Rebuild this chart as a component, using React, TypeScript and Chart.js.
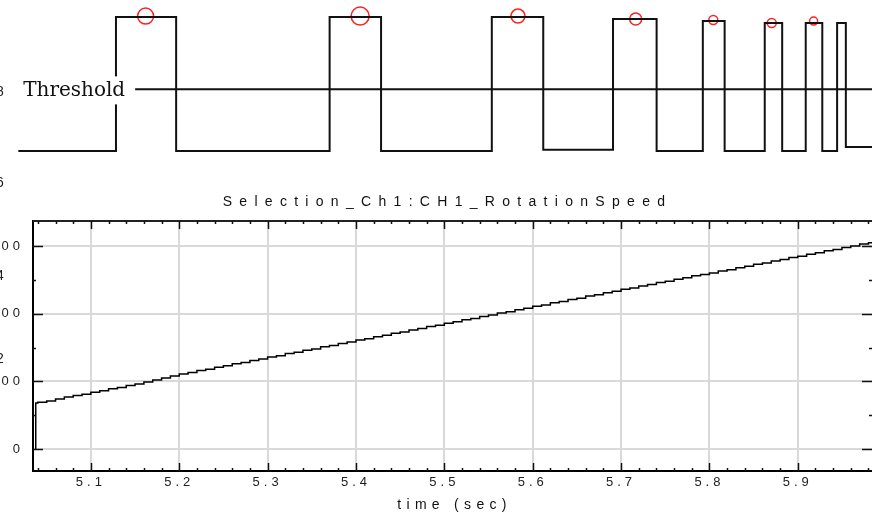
import React, { useEffect, useRef } from "react";
import { Chart, registerables } from "chart.js";

Chart.register(...registerables);

// ---------- Top panel: pulse train with threshold (arbitrary time units 0–100) ----------
const signalStart = 2.1;
const signalEnd = 100;
const pulseRise = [13.3, 37.8, 56.4, 70.3, 80.6, 87.7, 92.4, 96.0];
const pulseFall = [20.2, 43.7, 62.3, 75.3, 83.1, 89.7, 94.3, 97.0];
const pulseHigh = [1.0, 1.0, 1.0, 0.985, 0.97, 0.955, 0.955, 0.955];
const pulseLowAfter = [0, 0, 0.01, 0, 0, 0, 0, 0.03];
const thresholdStart = 15.5;
const thresholdLevel = 0.46;
const thresholdText = "Threshold";
const peakX = [16.7, 41.3, 59.4, 72.9, 81.8, 88.5, 93.3];
const peakY = [1.007, 1.007, 1.007, 0.985, 0.978, 0.955, 0.97];
const peakSize = [8, 9, 7, 6, 4.5, 4.5, 4];
const sideDigits = ["8", "6", "4", "2"];

// ---------- Bottom panel: rotation speed vs time ----------
const chartTitle = "Selection_Ch1:CH1_RotationSpeed";
const xTitle = "time (sec)";
const timeSec = [
  5.0368, 5.0376, 5.04, 5.05, 5.06, 5.07, 5.08, 5.09,
  5.1, 5.11, 5.12, 5.13, 5.14, 5.15, 5.16, 5.17, 5.18, 5.19,
  5.2, 5.21, 5.22, 5.23, 5.24, 5.25, 5.26, 5.27, 5.28, 5.29,
  5.3, 5.31, 5.32, 5.33, 5.34, 5.35, 5.36, 5.37, 5.38, 5.39,
  5.4, 5.41, 5.42, 5.43, 5.44, 5.45, 5.46, 5.47, 5.48, 5.49,
  5.5, 5.51, 5.52, 5.53, 5.54, 5.55, 5.56, 5.57, 5.58, 5.59,
  5.6, 5.61, 5.62, 5.63, 5.64, 5.65, 5.66, 5.67, 5.68, 5.69,
  5.7, 5.71, 5.72, 5.73, 5.74, 5.75, 5.76, 5.77, 5.78, 5.79,
  5.8, 5.81, 5.82, 5.83, 5.84, 5.85, 5.86, 5.87, 5.88, 5.89,
  5.9, 5.91, 5.92, 5.93, 5.94, 5.95, 5.96, 5.97, 5.98, 5.984,
];
const speed = [
  0, 0.68, 0.69, 0.71, 0.74, 0.77, 0.79, 0.81,
  0.84, 0.86, 0.89, 0.91, 0.94, 0.96, 0.99, 1.02, 1.05, 1.08,
  1.11, 1.13, 1.16, 1.18, 1.21, 1.23, 1.26, 1.28, 1.31, 1.33,
  1.36, 1.38, 1.41, 1.43, 1.46, 1.48, 1.51, 1.53, 1.56, 1.58,
  1.61, 1.63, 1.66, 1.68, 1.71, 1.73, 1.76, 1.78, 1.81, 1.83,
  1.86, 1.88, 1.91, 1.93, 1.96, 1.98, 2.01, 2.03, 2.06, 2.08,
  2.11, 2.13, 2.16, 2.18, 2.21, 2.23, 2.26, 2.28, 2.31, 2.33,
  2.36, 2.38, 2.41, 2.43, 2.46, 2.48, 2.51, 2.53, 2.56, 2.58,
  2.6, 2.63, 2.65, 2.68, 2.7, 2.73, 2.75, 2.78, 2.8, 2.83,
  2.85, 2.88, 2.9, 2.93, 2.95, 2.98, 3.0, 3.03, 3.05, 3.06,
];
const xMin = 5.0345;
const xMax = 5.984;
const xTicks = [5.1, 5.2, 5.3, 5.4, 5.5, 5.6, 5.7, 5.8, 5.9];
const xMinorStep = 0.02;
const yMin = -0.325;
const yMax = 3.37;
const yTicks = [0, 1, 2, 3];
const yTickLabels = ["0", "100", "200", "300"];
const yMinorStep = 0.5;

const SANS = "'Liberation Sans', Arial, sans-serif";

function buildPulse() {
  const pts: { x: number; y: number }[] = [{ x: signalStart, y: 0 }];
  let low = 0;
  for (let i = 0; i < pulseRise.length; i++) {
    pts.push({ x: pulseRise[i], y: low });
    pts.push({ x: pulseRise[i], y: pulseHigh[i] });
    pts.push({ x: pulseFall[i], y: pulseHigh[i] });
    low = pulseLowAfter[i];
    pts.push({ x: pulseFall[i], y: low });
  }
  pts.push({ x: signalEnd, y: low });
  return pts;
}

export default function App() {
  const topRef = useRef<HTMLCanvasElement | null>(null);
  const botRef = useRef<HTMLCanvasElement | null>(null);

  useEffect(() => {
    const labelPlugin = {
      id: "thresholdLabel",
      afterDatasetsDraw(chart: any) {
        const ctx = chart.ctx;
        const xs = chart.scales.x;
        const ys = chart.scales.y;
        const xr = xs.getPixelForValue(thresholdStart) - 10;
        const yc = ys.getPixelForValue(thresholdLevel);
        ctx.save();
        ctx.font = "20px 'DejaVu Serif', serif";
        const w = ctx.measureText(thresholdText).width;
        ctx.fillStyle = "#fff";
        ctx.fillRect(xr - w - 6, yc - 13, w + 13, 28);
        ctx.fillStyle = "#111";
        ctx.textAlign = "right";
        ctx.textBaseline = "middle";
        ctx.fillText(thresholdText, xr, yc + 1);
        ctx.restore();
      },
    };

    const top = new Chart(topRef.current as HTMLCanvasElement, {
      type: "line",
      data: {
        datasets: [
          {
            data: buildPulse(),
            borderColor: "#111",
            borderWidth: 2,
            pointRadius: 0,
            tension: 0,
          },
          {
            data: [
              { x: thresholdStart, y: thresholdLevel },
              { x: signalEnd, y: thresholdLevel },
            ],
            borderColor: "#111",
            borderWidth: 2,
            pointRadius: 0,
          },
          {
            data: peakX.map((x, i) => ({ x, y: peakY[i] })),
            showLine: false,
            pointRadius: peakSize,
            pointBorderColor: "#ff2020",
            pointBackgroundColor: "rgba(0,0,0,0)",
            pointBorderWidth: 1.5,
          },
        ],
      },
      options: {
        animation: false,
        responsive: false,
        layout: { padding: 0, autoPadding: false },
        plugins: { legend: { display: false }, tooltip: { enabled: false } },
        scales: {
          x: { type: "linear", min: 0, max: 100, display: false },
          y: { min: -0.291, max: 1.127, display: false },
        },
      } as any,
      plugins: [labelPlugin],
    });

    const framePlugin = {
      id: "frame",
      beforeDraw(chart: any) {
        (chart.ctx as any).letterSpacing = "4px";
      },
      afterDraw(chart: any) {
        const ctx = chart.ctx;
        const a = chart.chartArea;
        const xs = chart.scales.x;
        const ys = chart.scales.y;
        ctx.save();
        ctx.strokeStyle = "#222";
        ctx.lineWidth = 2;
        ctx.beginPath();
        ctx.moveTo(a.left, a.top);
        ctx.lineTo(a.right, a.top);
        ctx.stroke();
        ctx.lineWidth = 1.5;
        ctx.strokeStyle = "#111";
        ctx.beginPath();
        for (let v = Math.ceil(xMin / xMinorStep) * xMinorStep; v <= xMax; v += xMinorStep) {
          const major = xTicks.some((t) => Math.abs(t - v) < 1e-6);
          const len = major ? 8 : 3;
          const px = Math.round(xs.getPixelForValue(v)) + 0.5;
          ctx.moveTo(px, a.bottom);
          ctx.lineTo(px, a.bottom - len);
          ctx.moveTo(px, a.top);
          ctx.lineTo(px, a.top + len);
        }
        for (let v = Math.ceil(yMin / yMinorStep) * yMinorStep; v <= yMax; v += yMinorStep) {
          const major = yTicks.some((t) => Math.abs(t - v) < 1e-6);
          const len = major ? 10 : 3;
          const py = Math.round(ys.getPixelForValue(v)) + 0.5;
          ctx.moveTo(a.left, py);
          ctx.lineTo(a.left + len, py);
          ctx.moveTo(a.right, py);
          ctx.lineTo(a.right - len, py);
        }
        ctx.stroke();
        ctx.fillStyle = "#111";
        ctx.textAlign = "center";
        ctx.textBaseline = "middle";
        ctx.font = "14px " + SANS;
        (ctx as any).letterSpacing = "7.3px";
        ctx.fillText(chartTitle, (a.left + a.right) / 2 - 5, 12);
        ctx.font = "14px " + SANS;
        (ctx as any).letterSpacing = "5.3px";
        ctx.fillText(xTitle, (a.left + a.right) / 2 + 2, chart.height - 12);
        ctx.restore();
        (ctx as any).letterSpacing = "0px";
      },
    };

    const bot = new Chart(botRef.current as HTMLCanvasElement, {
      type: "line",
      data: {
        datasets: [
          {
            data: timeSec.map((t, i) => ({ x: t, y: speed[i] })),
            borderColor: "#000",
            borderWidth: 1.5,
            pointRadius: 0,
            stepped: "before",
          },
        ],
      },
      options: {
        animation: false,
        responsive: false,
        layout: { padding: { top: 31, left: 0, right: 0, bottom: 0 }, autoPadding: false },
        plugins: { legend: { display: false }, title: { display: false }, tooltip: { enabled: false } },
        scales: {
          x: {
            type: "linear",
            min: xMin,
            max: xMax,
            afterBuildTicks: (s: any) => {
              s.ticks = xTicks.map((v) => ({ value: v }));
            },
            afterFit: (s: any) => {
              s.height = 46;
            },
            grid: { color: "#d9d9d9", lineWidth: 2, drawTicks: false },
            border: { display: true, color: "#000", width: 2 },
            ticks: {
              padding: 4,
              color: "#222",
              font: { family: SANS, size: 13 },
              maxRotation: 0,
              autoSkip: false,
              callback: (v: any) => Number(v).toFixed(1),
            },
          },
          y: {
            min: yMin,
            max: yMax,
            afterBuildTicks: (s: any) => {
              s.ticks = yTicks.map((v) => ({ value: v }));
            },
            afterFit: (s: any) => {
              s.width = 33;
            },
            grid: { color: "#d9d9d9", lineWidth: 2, drawTicks: false },
            border: { display: true, color: "#000", width: 2 },
            ticks: {
              padding: 9,
              color: "#222",
              font: { family: SANS, size: 13 },
              autoSkip: false,
              callback: (v: any) => {
                const i = yTicks.indexOf(Number(v));
                return i >= 0 ? yTickLabels[i] : "";
              },
            },
          },
        },
      } as any,
      plugins: [framePlugin],
    });

    return () => {
      top.destroy();
      bot.destroy();
    };
  }, []);

  const digitTops = [82, 173, 266, 349];

  return (
    <div
      style={{
        position: "absolute",
        left: 0,
        top: 0,
        width: 872,
        height: 517,
        overflow: "hidden",
        background: "#fff",
      }}
    >
      <canvas ref={topRef} width={872} height={190} style={{ position: "absolute", left: 0, top: 0 }} />
      <canvas ref={botRef} width={872} height={327} style={{ position: "absolute", left: 0, top: 190 }} />
      {sideDigits.map((d, i) => (
        <span
          key={d}
          style={{
            position: "absolute",
            left: -4,
            top: digitTops[i],
            font: "14px " + SANS,
            color: "#222",
            lineHeight: "18px",
          }}
        >
          {d}
        </span>
      ))}
    </div>
  );
}
